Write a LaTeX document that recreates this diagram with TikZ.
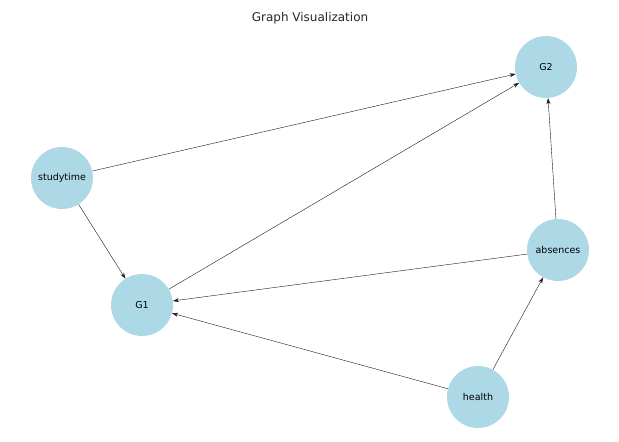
\documentclass[tikz,border=0pt]{standalone}
\usepackage{fontspec}
\setmainfont{DejaVu Sans}
\usetikzlibrary{arrows.meta}
\definecolor{nodeblue}{RGB}{173,216,230}
\begin{document}
\begin{tikzpicture}[x=1pt,y=-1pt,
  vertex/.style={circle,fill=nodeblue,minimum size=62pt,inner sep=0pt,font=\fontsize{9.5}{11}\selectfont},
  edge/.style={-{Stealth[length=6pt,width=4pt]},thin,black!90}]
        \useasboundingbox (0,0) rectangle (619,442);
        \node[font=\fontsize{12}{14}\selectfont,text=black!85] (title) at (310,18) {Graph Visualization};
        \node[vertex] (G2) at (546,67) {G2};
        \node[vertex] (studytime) at (62,178) {studytime};
        \node[vertex] (G1) at (142,305) {G1};
        \node[vertex] (absences) at (558,250) {absences};
        \node[vertex] (health) at (478,397) {health};
        % kanten
        \draw[edge] (studytime) -- (G2);
        \draw[edge] (studytime) -- (G1);
        \draw[edge] (G1) -- (G2);
        \draw[edge] (absences) -- (G2);
        \draw[edge] (absences) -- (G1);
        \draw[edge] (health) -- (G1);
        \draw[edge] (health) -- (absences);
\end{tikzpicture}
\end{document}
